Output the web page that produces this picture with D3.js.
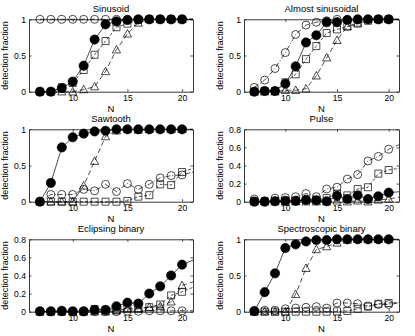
<!DOCTYPE html>
<html>
<head>
<meta charset="utf-8">
<script src="https://cdn.jsdelivr.net/npm/d3@7/dist/d3.min.js"></script>
<style>
  body { margin: 0; background: #fff; }
  svg text { font-family: "Liberation Sans", Arial, sans-serif; fill: #000; }
</style>
</head>
<body>
<div id="chart"></div>
<script>
// N values (last one, 21, sits on the right border: line only)
const nValues = [7, 8, 9, 10, 11, 12, 13, 14, 15, 16, 17, 18, 19, 20, 21]

const titles = ['Sinusoid', 'Almost sinusoidal', 'Sawtooth', 'Pulse', 'Eclipsing binary', 'Spectroscopic binary']
const yMax = [1, 1, 1, 0.8, 0.8, 1]
const xTicks = [10, 15, 20]
const yTicks1 = [0, 0.5, 1]
const yTicks08 = [0, 0.2, 0.4, 0.6, 0.8]

// Sinusoid
const sinCircle = [1, 1, 1, 1, 1, 1, 1, 1, 1, 1, 1, 1, 1, 1, 1]
const sinSquare = [0, 0, 0.06, 0.12, 0.30, 0.51, 0.70, 0.89, 0.94, 0.99, 1, 1, 1, 1, 1]
const sinTriangle = [0, 0, 0, 0, 0.03, 0.07, 0.28, 0.58, 0.80, 0.95, 1, 1, 1, 1, 1]
const sinFilled = [0, 0, 0.05, 0.14, 0.36, 0.72, 0.93, 0.97, 0.99, 1, 1, 1, 1, 1, 1]

// Almost sinusoidal
const almCircle = [0.06, 0.16, 0.32, 0.54, 0.79, 0.92, 0.96, 0.98, 1, 1, 1, 1, 1, 1, 1]
const almSquare = [0, 0.01, 0.01, 0.13, 0.24, 0.45, 0.63, 0.81, 0.86, 0.90, 0.94, 0.98, 1, 1, 1]
const almTriangle = [0, 0, 0, 0.02, 0.02, 0.04, 0.22, 0.47, 0.71, 0.90, 0.95, 1, 1, 1, 1]
const almFilled = [0, 0.01, 0.01, 0.11, 0.35, 0.68, 0.78, 0.96, 0.96, 0.99, 1, 1, 1, 1, 1]

// Sawtooth
const sawCircle = [0, 0.10, 0.10, 0.10, 0.17, 0.15, 0.24, 0.14, 0.25, 0.17, 0.24, 0.33, 0.36, 0.37, 0.41]
const sawSquare = [0, 0, 0, 0, 0, 0, 0, 0, 0.01, 0.07, 0.09, 0.24, 0.23, 0.41, 0.46]
const sawTriangle = [0, 0, 0, 0, 0.22, 0.56, 0.90, 0.98, 1, 0.99, 1, 1, 1, 1, 1]
const sawFilled = [0, 0.26, 0.75, 0.89, 0.94, 0.97, 0.98, 1, 1, 1, 1, 1, 1, 1, 1]

// Pulse
const pulCircle = [0.03, 0.01, 0.04, 0.045, 0.055, 0.09, 0.055, 0.14, 0.16, 0.25, 0.30, 0.45, 0.50, 0.58, 0.63]
const pulSquare = [0.01, 0.005, 0.01, 0.01, 0.01, 0.02, 0.02, 0.04, 0.09, 0.07, 0.14, 0.16, 0.31, 0.35, 0.37]
const pulTriangle = [0, 0, 0, 0, 0, 0, 0, 0, 0.01, 0, 0.01, 0, 0.02, 0.03, 0.05]
const pulFilled = [0, 0, 0.005, 0.01, 0.01, 0.02, 0.015, 0.005, 0.065, 0.03, 0.07, 0.03, 0.06, 0.10, 0.11]

// Eclipsing binary
const eclCircle = [0, 0, 0, 0, 0, 0, 0, 0, 0.005, 0.005, 0.01, 0.01, 0.01, 0.01, 0.01]
const eclSquare = [0, 0, 0, 0, 0, 0.03, 0.02, 0.02, 0.04, 0.04, 0.05, 0.08, 0.18, 0.22, 0.27]
const eclTriangle = [0, 0, 0, 0, 0, 0, 0, 0.01, 0.03, 0.03, 0.05, 0.06, 0.11, 0.29, 0.33]
const eclFilled = [0.005, 0.005, 0.01, 0.005, 0.005, 0.02, 0.02, 0.06, 0.10, 0.09, 0.20, 0.28, 0.40, 0.52, 0.57]

// Spectroscopic binary
const speCircle = [0.01, 0.02, 0.02, 0.04, 0.05, 0.06, 0.07, 0.05, 0.12, 0.12, 0.11, 0.08, 0.10, 0.10, 0.12]
const speSquare = [0, 0, 0, 0, 0, 0, 0, 0, 0.005, 0.01, 0.04, 0.07, 0.11, 0.12, 0.13]
const speTriangle = [0, 0, 0, 0, 0.24, 0.60, 0.86, 0.90, 0.95, 0.99, 1, 1, 1, 1, 1]
const speFilled = [0.01, 0.27, 0.53, 0.88, 0.93, 0.97, 0.99, 0.99, 1, 1, 1, 1, 1, 1, 1]

const panelData = [
  [sinCircle, sinSquare, sinTriangle, sinFilled],
  [almCircle, almSquare, almTriangle, almFilled],
  [sawCircle, sawSquare, sawTriangle, sawFilled],
  [pulCircle, pulSquare, pulTriangle, pulFilled],
  [eclCircle, eclSquare, eclTriangle, eclFilled],
  [speCircle, speSquare, speTriangle, speFilled]
]

// series styles: open circle, square, triangle, filled circle
const styles = [
  {shape: 'circle', dash: '5,2,1,2', fill: 'none', r: 4},
  {shape: 'square', dash: '3,2', fill: 'none', r: 3.5},
  {shape: 'triangle', dash: '5,3', fill: 'none', r: 4.3},
  {shape: 'circle', dash: null, fill: '#000', r: 4.6}
]

const width = 415, height = 336
const cols = [{x0: 29, x1: 193}, {x0: 244, x1: 399}]
const rowTop = 19.3, rowH = 72.4, rowStep = 110

const svg = d3.select('#chart').append('svg')
  .attr('width', width)
  .attr('height', height)

let markerPath = (shape, r) => {
  if (shape === 'square') return `M${-r},${-r}h${2*r}v${2*r}h${-2*r}Z`
  if (shape === 'triangle') return `M0,${-r}L${r*0.95},${r*0.75}L${-r*0.95},${r*0.75}Z`
  return null
}

titles.forEach((title, p) => {
  const col = cols[p % 2]
  const top = rowTop + Math.floor(p / 2) * rowStep
  const bottom = top + rowH

  const x = d3.scaleLinear().domain([6, 21]).range([col.x0, col.x1])
  const y = d3.scaleLinear().domain([0, yMax[p]]).range([bottom, top])
  const yTicks = yMax[p] === 1 ? yTicks1 : yTicks08

  const g = svg.append('g')

  g.append('clipPath').attr('id', 'clip' + p)
    .append('rect')
    .attr('x', col.x0).attr('y', top - 6)
    .attr('width', col.x1 - col.x0).attr('height', rowH + 12)

  // axes with inward ticks, on all four sides
  const fmt = d3.format('')
  g.append('g').attr('transform', `translate(0,${bottom})`)
    .call(d3.axisBottom(x).tickValues(xTicks).tickSizeInner(-2.5).tickSizeOuter(0).tickPadding(3))
  g.append('g').attr('transform', `translate(0,${top})`)
    .call(d3.axisTop(x).tickValues(xTicks).tickSizeInner(-2.5).tickSizeOuter(0).tickFormat(''))
  g.append('g').attr('transform', `translate(${col.x0},0)`)
    .call(d3.axisLeft(y).tickValues(yTicks).tickSizeInner(-2.5).tickSizeOuter(0).tickPadding(3).tickFormat(fmt))
  g.append('g').attr('transform', `translate(${col.x1},0)`)
    .call(d3.axisRight(y).tickValues(yTicks).tickSizeInner(-2.5).tickSizeOuter(0).tickFormat(''))

  g.selectAll('.domain').attr('stroke', '#222').attr('stroke-width', 0.9)
  g.selectAll('.tick line').attr('stroke', '#222').attr('stroke-width', 0.8)
  g.selectAll('.tick text').style('font-size', '8.6px')

  // series
  panelData[p].forEach((vals, s) => {
    const st = styles[s]
    const pts = vals.map((v, i) => ({n: nValues[i], v: v}))
    const line = d3.line().x(d => x(d.n)).y(d => y(d.v))

    g.append('path')
      .datum(pts)
      .attr('clip-path', `url(#clip${p})`)
      .attr('d', line)
      .attr('fill', 'none')
      .attr('stroke', '#000')
      .attr('stroke-width', 0.7)
      .attr('stroke-dasharray', st.dash)

    const shown = pts.filter(d => d.n <= 20)
    if (st.shape === 'circle') {
      g.selectAll(null).data(shown).enter().append('circle')
        .attr('cx', d => x(d.n)).attr('cy', d => y(d.v))
        .attr('r', st.r)
        .attr('fill', st.fill)
        .attr('stroke', '#000').attr('stroke-width', 0.7)
    } else {
      g.selectAll(null).data(shown).enter().append('path')
        .attr('d', markerPath(st.shape, st.r))
        .attr('transform', d => `translate(${x(d.n)},${y(d.v)})`)
        .attr('fill', st.fill)
        .attr('stroke', '#000').attr('stroke-width', 0.7)
    }
  })

  // title and labels
  g.append('text')
    .attr('x', (col.x0 + col.x1) / 2).attr('y', top - 7)
    .attr('text-anchor', 'middle')
    .style('font-size', '9.5px')
    .text(title)
  g.append('text')
    .attr('x', (col.x0 + col.x1) / 2).attr('y', bottom + 20)
    .attr('text-anchor', 'middle')
    .style('font-size', '9.5px')
    .text('N')
  g.append('text')
    .attr('transform', `translate(${col.x0 - 21},${(top + bottom) / 2}) rotate(-90)`)
    .attr('text-anchor', 'middle')
    .style('font-size', '9px')
    .text('detection fraction')
})
</script>
</body>
</html>
